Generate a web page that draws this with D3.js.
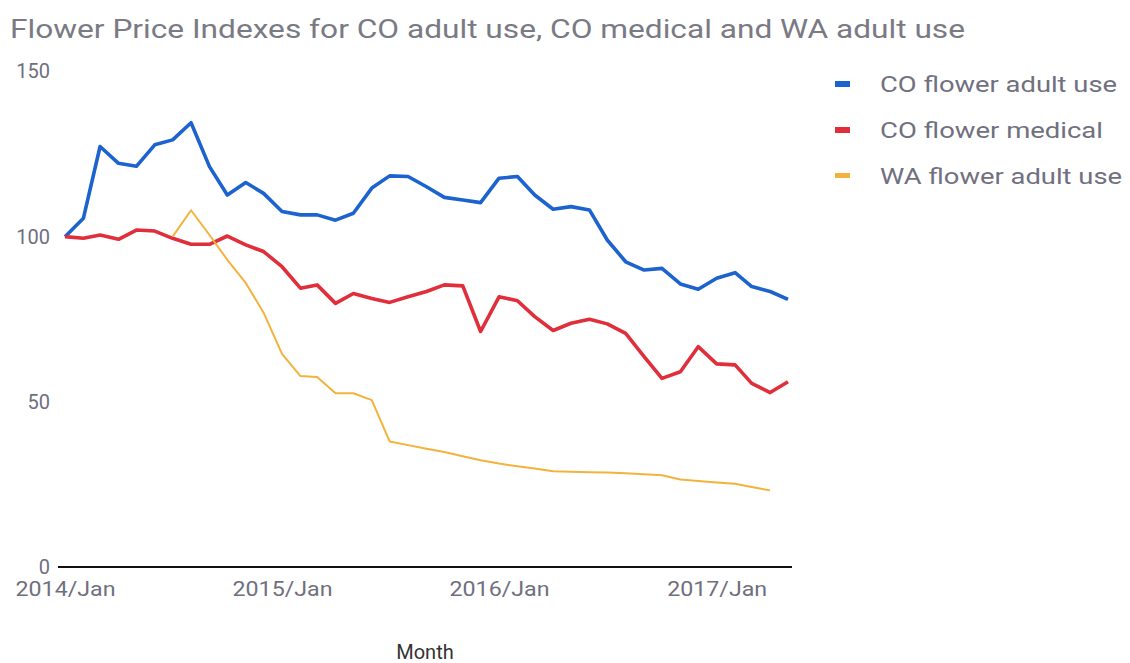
<!DOCTYPE html>
<html><head><meta charset="utf-8">
<script src="https://cdn.jsdelivr.net/npm/d3@7"></script>
<style>body{margin:0;background:#fff}svg{display:block;font-family:Roboto,"Noto Sans",sans-serif}</style>
</head><body><svg id="c" width="1130" height="663"></svg>
<script>
const startMonth = "2014-01";
const monthCount = 41;
const tickLabels = ["2014/Jan", "2015/Jan", "2016/Jan", "2017/Jan"];
const yTicks = [0, 50, 100, 150];
const seriesNames = ["CO flower adult use", "CO flower medical", "WA flower adult use"];
const coAdult = [100, 105.6, 127.3, 122.2, 121.3, 127.8, 129.3, 134.5, 121.2, 112.6, 116.4, 113.1, 107.6, 106.6, 106.6, 105.0, 107.1, 114.7, 118.4, 118.2, 115.1, 111.9, 111.1, 110.3, 117.7, 118.2, 112.6, 108.3, 109.1, 108.1, 99.0, 92.4, 89.9, 90.4, 85.7, 84.1, 87.4, 89.1, 84.9, 83.4, 81.0];
const coMedical = [100, 99.5, 100.5, 99.2, 102.0, 101.7, 99.5, 97.7, 97.7, 100.2, 97.5, 95.5, 90.9, 84.4, 85.4, 79.8, 82.8, 81.3, 80.1, 81.8, 83.4, 85.4, 85.1, 71.3, 81.8, 80.6, 75.8, 71.6, 73.8, 75.0, 73.6, 70.7, 63.7, 57.1, 59.1, 66.7, 61.5, 61.2, 55.6, 52.8, 56.1];
const waAdult = [null, null, null, null, null, null, 100, 108, 100.5, 93, 86, 77, 64.5, 57.8, 57.5, 52.6, 52.6, 50.5, 38, 36.9, 35.8, 34.8, 33.5, 32.3, 31.3, 30.5, 29.8, 29, 28.8, 28.7, 28.6, 28.4, 28.1, 27.8, 26.5, 26, 25.6, 25.2, 24.2, 23.2, null];
const colors = ["#1c63d0", "#e02f3b", "#f3b23c"];
const widths = [3.6, 3.6, 2];
const legendWidths = [237, 223, 242];

const svg = d3.select("#c");
const parse = d3.timeParse("%Y-%m");
const t0 = parse(startMonth);
const months = d3.range(monthCount).map(i => d3.timeMonth.offset(t0, i));

const x = d3.scaleTime().domain([months[0], months[monthCount - 1]]).range([65, 788]);
const y = d3.scaleLinear().domain([0, 150]).range([567, 71.5]);

// title
svg.append("text").attr("x", 10).attr("y", 38).attr("font-size", 25).attr("fill", "#7a7a84")
  .attr("textLength", 955).attr("lengthAdjust", "spacingAndGlyphs")
  .text("Flower Price Indexes for CO adult use, CO medical and WA adult use");

// y axis labels
const yAxis = d3.axisLeft(y).tickValues(yTicks).tickSize(0).tickPadding(0);
const gy = svg.append("g").attr("transform", "translate(50,0)").call(yAxis);
gy.select(".domain").remove();
gy.selectAll("text").attr("font-size", 20).attr("fill", "#6f6f7e").attr("font-family", "Roboto,sans-serif");

// x axis
const xTickDates = tickLabels.map(s => d3.timeParse("%Y/%b")(s));
const xAxis = d3.axisBottom(x).tickValues(xTickDates).tickFormat(d3.timeFormat("%Y/%b")).tickSize(0).tickPadding(14);
const gx = svg.append("g").attr("transform", "translate(0,567)").call(xAxis);
gx.select(".domain").remove();
gx.selectAll("text").attr("font-size", 21).attr("fill", "#6f6f7e").attr("font-family", "Roboto,sans-serif")
  .attr("textLength", 100).attr("lengthAdjust", "spacingAndGlyphs");
svg.append("line").attr("x1", x.range()[0] - 7).attr("x2", x.range()[1] + 4)
  .attr("y1", y(0)).attr("y2", y(0)).attr("stroke", "#111").attr("stroke-width", 2);

svg.append("text").attr("x", 425).attr("y", 659).attr("text-anchor", "middle")
  .attr("font-size", 20).attr("fill", "#333").text("Month");

// lines
const series = [coAdult, coMedical, waAdult];
const line = d3.line().defined(d => d.v != null).x(d => x(d.t)).y(d => y(d.v));
series.forEach((vals, i) => {
  const pts = vals.map((v, j) => ({t: months[j], v}));
  svg.append("path").datum(pts).attr("d", line).attr("fill", "none")
    .attr("stroke", colors[i]).attr("stroke-width", widths[i]).attr("stroke-linejoin", "round");
});

// legend
const lg = svg.append("g");
seriesNames.forEach((n, i) => {
  const cy = 84 + i * 46;
  lg.append("rect").attr("x", 835).attr("y", cy - 3).attr("width", 15).attr("height", i === 2 ? 5 : 6)
    .attr("fill", colors[i]);
  lg.append("text").attr("x", 880).attr("y", cy + 8).attr("font-size", 22).attr("fill", "#707080")
    .attr("textLength", legendWidths[i]).attr("lengthAdjust", "spacingAndGlyphs").text(n);
});
</script></body></html>
